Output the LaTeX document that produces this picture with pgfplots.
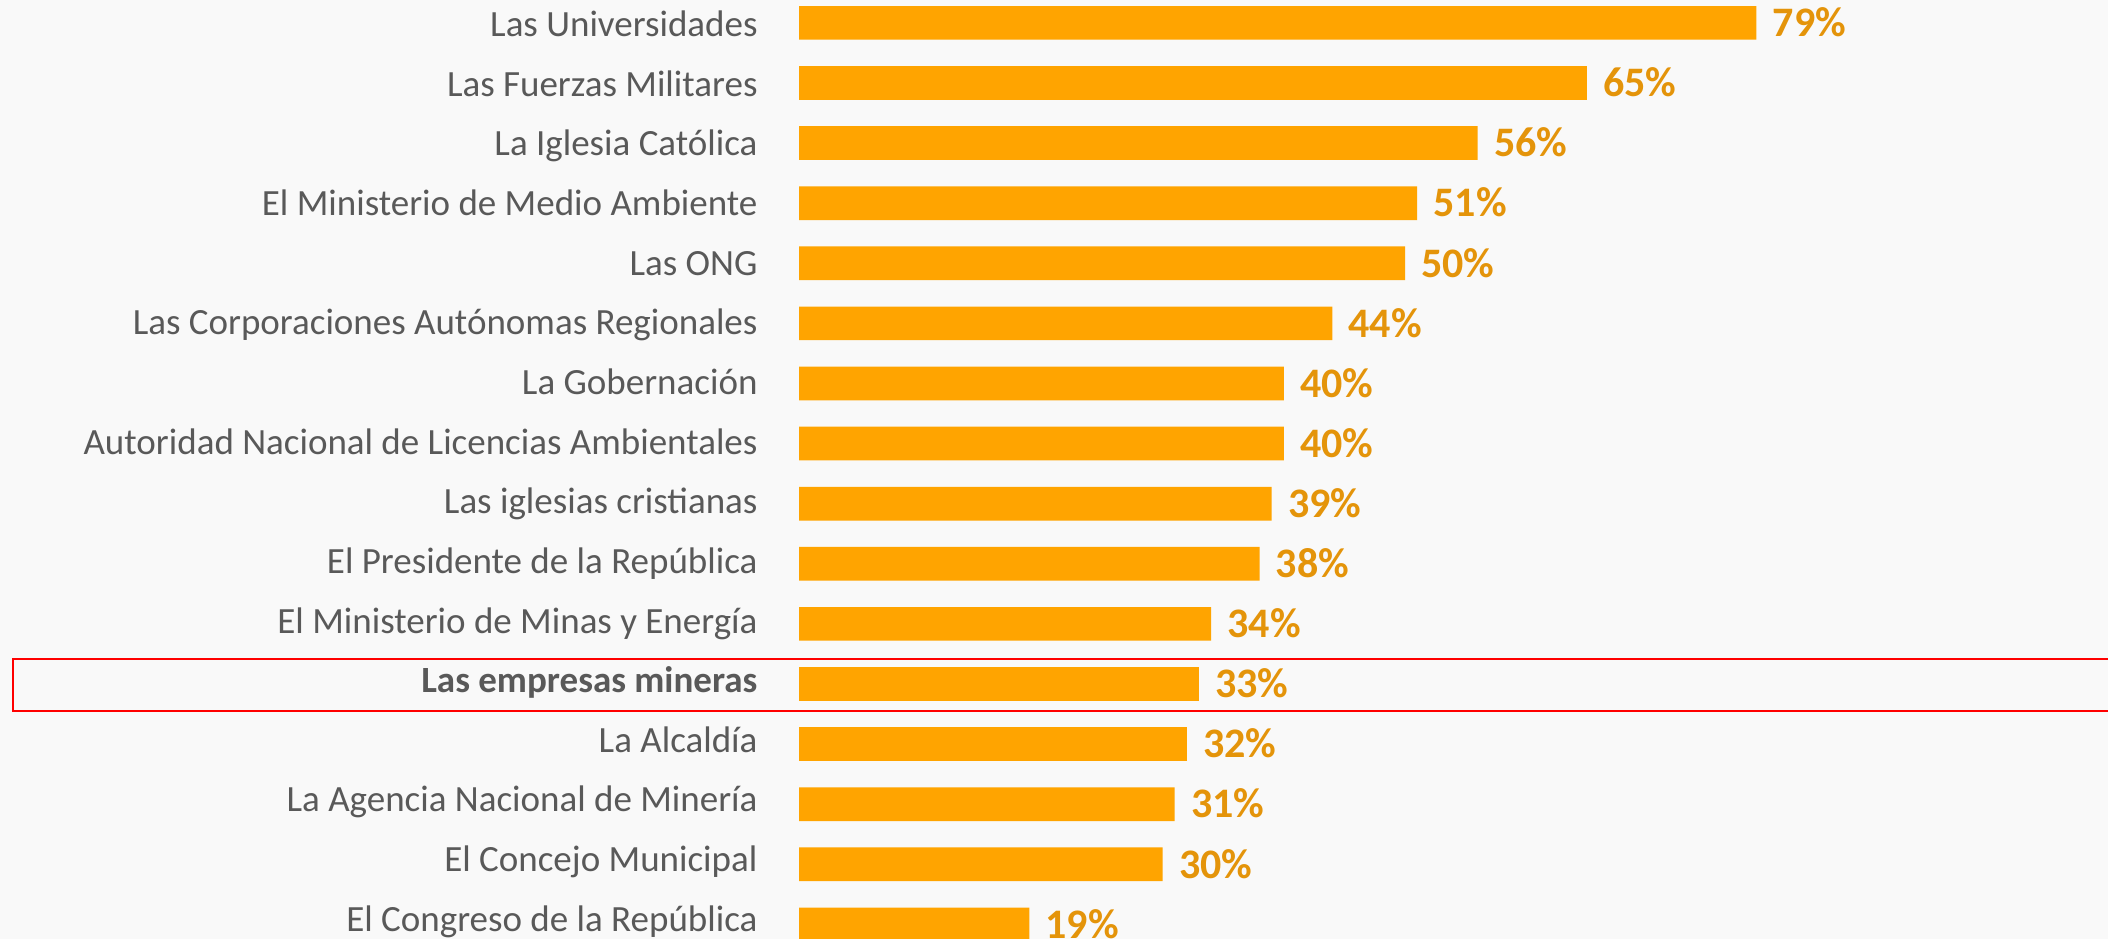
\documentclass[border=0pt]{standalone}
\usepackage{pgfplots}
\pgfplotsset{compat=1.18}
\usepackage{fontspec}
\setmainfont{Carlito}
\definecolor{bg}{RGB}{249,249,249}
\definecolor{barorange}{RGB}{255,164,0}
\definecolor{valorange}{RGB}{228,148,10}
\definecolor{labelgray}{RGB}{89,89,89}
\begin{document}
\begin{tikzpicture}
\path[use as bounding box, fill=bg] (0,0) rectangle (1054bp,469.5bp);
\clip (0,0) rectangle (1054bp,469.5bp);
\begin{axis}[
  at={(399.5bp,-7.7bp)}, anchor=south west,
  scale only axis, width=606bp, height=480.8bp,
  xbar, bar width=16.85bp,
  xmin=0, xmax=100, ymin=0.5, ymax=16.5, y dir=reverse,
  clip=false,
  axis line style={draw=none}, tick style={draw=none},
  xtick=\empty,
  ytick={1,1.9924,2.9847,3.9771,4.9694,5.9618,6.9541,7.9465,8.9388,9.9312,10.9235,11.9159,12.9082,13.9006,14.8929,15.8853},
  yticklabels={Las Universidades, Las Fuerzas Militares, La Iglesia Católica, El Ministerio de Medio Ambiente, Las ONG, Las Corporaciones Autónomas Regionales, La Gobernación, Autoridad Nacional de Licencias Ambientales, Las iglesias cristianas, El Presidente de la República, El Ministerio de Minas y Energía, \textbf{Las empresas mineras}, La Alcaldía, La Agencia Nacional de Minería, El Concejo Municipal, El Congreso de la República},
  yticklabel style={anchor=base east, inner sep=0pt, xshift=-16.3bp, yshift=-6.9bp, font=\fontsize{18.5bp}{22bp}\selectfont, text=labelgray},
  /pgf/number format/assume math mode=true,
  point meta=x,
  nodes near coords={\pgfmathprintnumber[fixed,precision=0]{\pgfplotspointmeta}\%},
  every node near coord/.append style={anchor=base west, inner sep=0pt, xshift=8bp, yshift=-6.9bp, font=\fontsize{21bp}{25bp}\selectfont\bfseries, text=valorange},
]
\addplot[fill=barorange, draw=none] coordinates {
(79,1) (65,2) (56,3) (51,4) (50,5) (44,6) (40,7) (40,8) (39,9) (38,10) (34,11) (33,12) (32,13) (31,14) (30,15) (19,16)
};
\end{axis}
\draw[red, line width=1.1bp] (6.65bp,140bp) rectangle (1060bp,114.15bp);
\end{tikzpicture}
\end{document}
